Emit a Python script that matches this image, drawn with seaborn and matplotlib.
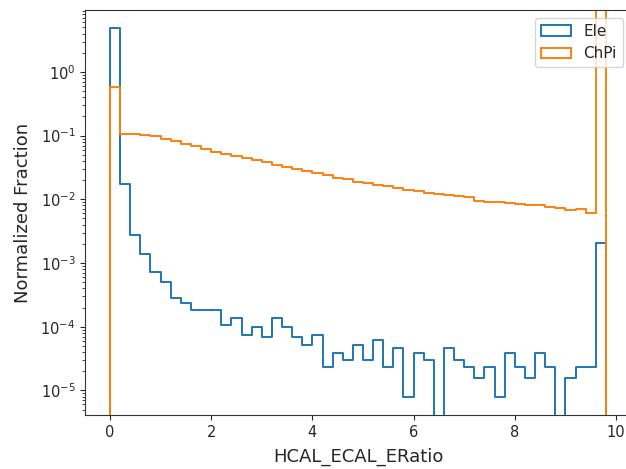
import numpy as np
import pandas as pd
import matplotlib
matplotlib.use("Agg")
import matplotlib.pyplot as plt
from matplotlib.patches import Patch
import seaborn as sns

# ---- data ----
bin_width = 0.2
n_bins = 49  # bins from 0.0 to 9.8

ele_values = [
    4.9, 0.0174, 0.00275, 0.0014, 0.00072, 0.0005, 0.00028, 0.000234, 0.00018, 0.00018,
    0.000185, 0.000105, 0.000135, 7.3e-5, 9.8e-5, 6.8e-5, 0.000135, 9.8e-5, 6.8e-5, 5.1e-5,
    7.3e-5, 2.3e-5, 3.8e-5, 3.0e-5, 5.1e-5, 3.0e-5, 6.1e-5, 2.3e-5, 4.6e-5, 7.9e-6,
    3.8e-5, 3.0e-5, 0.0, 4.6e-5, 3.0e-5, 2.3e-5, 1.55e-5, 2.3e-5, 7.9e-6, 3.8e-5,
    2.3e-5, 1.55e-5, 3.8e-5, 2.3e-5, 0.0, 1.55e-5, 2.3e-5, 2.3e-5, 0.00204,
]

chpi_values = [
    0.575, 0.105, 0.105, 0.104, 0.098, 0.090, 0.082, 0.075, 0.068, 0.062,
    0.056, 0.052, 0.048, 0.044, 0.041, 0.038, 0.035, 0.032, 0.030, 0.028,
    0.026, 0.024, 0.022, 0.0205, 0.019, 0.018, 0.017, 0.016, 0.015, 0.0142,
    0.0135, 0.0126, 0.0122, 0.0117, 0.0112, 0.0108, 0.0094, 0.0092, 0.0090, 0.0088,
    0.0083, 0.0082, 0.0080, 0.0077, 0.0074, 0.0067, 0.0071, 0.0060, 20.0,
]

labels = ["Ele", "ChPi"]
colors = ["#1f77b4", "#ff7f0e"]

# ---- build histogram inputs ----
centers = (np.arange(n_bins) + 0.5) * bin_width
# one empty bin on each side so the outline drops to the axis at both ends
edges = (np.arange(-1, n_bins + 2) * bin_width).tolist()

frames = {
    "Ele": pd.DataFrame({"x": centers, "w": ele_values}),
    "ChPi": pd.DataFrame({"x": centers, "w": chpi_values}),
}

sns.set_style("ticks")
plt.rcParams["font.family"] = ["DejaVu Sans"]

fig = plt.figure(figsize=(6.26, 4.69), dpi=100)
ax = fig.add_axes([0.1361, 0.1151, 0.8714, 0.8636])

for lab, col in zip(labels, colors):
    sns.histplot(data=frames[lab], x="x", weights="w", bins=edges,
                 element="step", fill=False, stat="count",
                 color=col, linewidth=1.4, ax=ax, legend=False)

ax.set_yscale("log")
ax.set_xlim(-0.49, 10.29)
ax.set_ylim(4.1e-6, 9.4)
ax.set_xticks([0, 2, 4, 6, 8, 10])
ax.tick_params(axis="both", which="major", labelsize=10.5, direction="out")
ax.set_xlabel("HCAL_ECAL_ERatio", fontsize=13, labelpad=6)
ax.set_ylabel("Normalized Fraction", fontsize=13, labelpad=6)
for s in ax.spines.values():
    s.set_visible(True)
    s.set_color("#333333")

handles = [Patch(facecolor="none", edgecolor=c, linewidth=1.4, label=l)
           for l, c in zip(labels, colors)]
ax.legend(handles=handles, loc="upper right", fontsize=11, framealpha=0.8)

fig.savefig("out.png", dpi=100)
